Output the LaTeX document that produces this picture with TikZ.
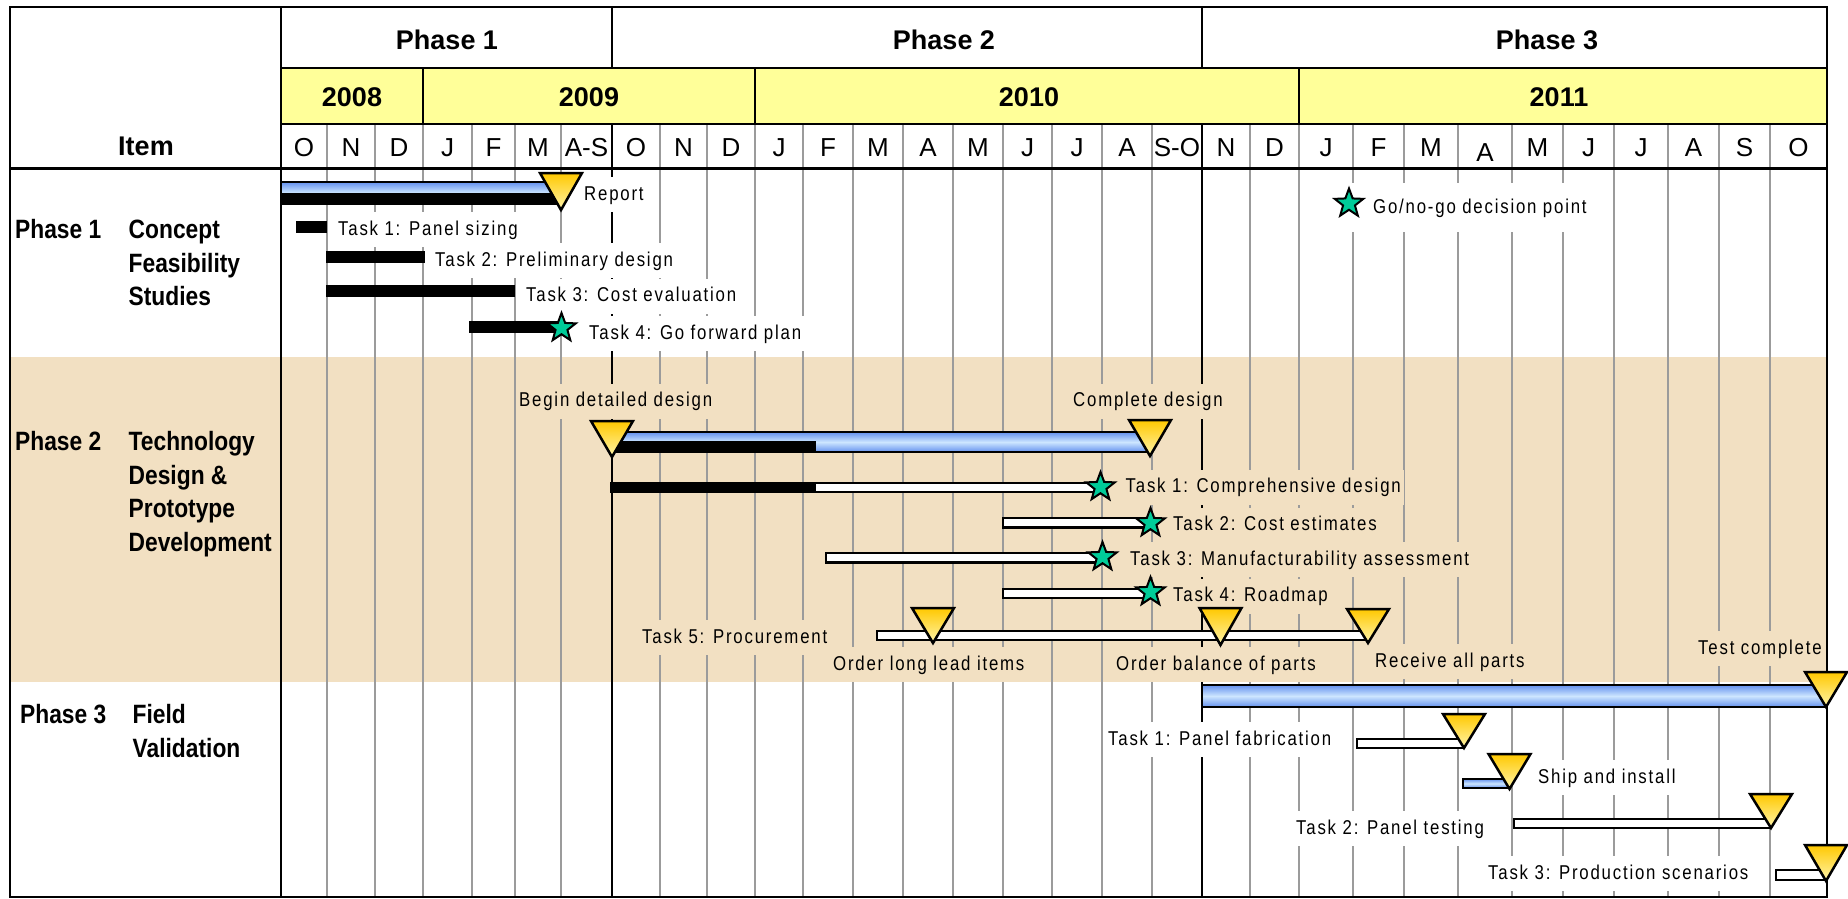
\documentclass[tikz,border=0pt]{standalone}
\usepackage{fontspec}
\setmainfont{Liberation Sans}
\newfontfamily\narrowfont[FakeStretch=0.84,LetterSpace=9]{Liberation Sans}
\newfontfamily\boldnarrow[FakeStretch=0.86]{Liberation Sans}
\usetikzlibrary{shapes.geometric}
\definecolor{gridgray}{RGB}{155,155,155}
\definecolor{hdryellow}{RGB}{255,255,153}
\definecolor{bandbeige}{RGB}{242,224,194}
\definecolor{stargreen}{RGB}{0,204,153}
\definecolor{barblueA}{RGB}{100,145,238}
\definecolor{barblueB}{RGB}{205,230,255}
\definecolor{msyellowA}{RGB}{255,200,0}
\definecolor{msyellowB}{RGB}{255,245,170}
\newcommand{\mstone}[4]{%
  \draw[milestone] (#2-21,#3) -- (#2+21,#3) -- (#2,#4) -- cycle;
  \coordinate (#1) at (#2,#4);}
\begin{document}
\begin{tikzpicture}[x=1pt,y=-1pt,
  gridline/.style={draw=gridgray,line width=2.2pt},
  blackline/.style={draw=black,line width=2.5pt},
  hdr/.style={font=\bfseries\fontsize{27}{30}\selectfont,inner sep=0pt,anchor=base},
  mon/.style={font=\fontsize{26}{28}\selectfont,inner sep=0pt,anchor=base},
  lcol/.style={font=\boldnarrow\bfseries\fontsize{26.5}{30}\selectfont,inner sep=0pt,anchor=base west},
  tasklbl/.style={font=\narrowfont\fontsize{20}{22}\selectfont,fill=white,inner xsep=3pt,inner ysep=8pt,
    text height=15pt,text depth=4pt,anchor=base west,xshift=-3pt},
  bandlbl/.style={tasklbl,fill=bandbeige},
  sumbar/.style={draw=black,line width=2pt,top color=barblueA,bottom color=barblueA,middle color=barblueB},
  taskbar/.style={draw=black,line width=2.5pt,fill=white},
  milestone/.style={draw=black,line width=2.5pt,line join=miter,top color=msyellowA,bottom color=msyellowB},
  msstar/.style={star,star points=5,star point ratio=2.4,minimum size=30pt,inner sep=0pt,
    draw=black,line width=2pt,fill=stargreen}]
\useasboundingbox (0,0) rectangle (1848,899);
% backgrounds
\fill[white] (10,7) rectangle (1827,897);
\fill[bandbeige] (10,357) rectangle (1827,682);
\fill[hdryellow] (281,68) rectangle (1827,124);
% grid lines (month boundaries)
\foreach \x in {327,375,423,472,515,561,660,707,755,803,853,903,953,1003,1052,1102,1152,1250,1299,1353,1404,1458,1512,1563,1614,1668,1719,1770}
  \draw[gridline] (\x,124) -- (\x,897);
% phase boundaries in body
\draw[blackline] (612,124) -- (612,897);
\draw[blackline] (1202,124) -- (1202,897);
% ---------- labels ----------
\node[tasklbl] (rep) at (584,200) {Report};
\node[tasklbl] (t11) at (338,235) {Task 1: Panel sizing};
\node[tasklbl] (t12) at (435,266) {Task 2: Preliminary design};
\node[tasklbl] (t13) at (526,301.5) {Task 3: Cost evaluation};
\node[tasklbl] (t14) at (589,339) {Task 4: Go forward plan};
\node[tasklbl,inner xsep=21pt,inner ysep=15pt,xshift=-18pt] (gonogo) at (1373,213) {Go/no-go decision point};
\node[bandlbl] (bd) at (519,406.5) {Begin detailed design};
\node[bandlbl] (cd) at (1073,406.5) {Complete design};
\node[bandlbl] (t21) at (1125.5,492.5) {Task 1: Comprehensive design};
\node[bandlbl] (t22) at (1173,530.5) {Task 2: Cost estimates};
\node[bandlbl] (t23) at (1130,565) {Task 3: Manufacturability assessment};
\node[bandlbl] (t24) at (1173,601.5) {Task 4: Roadmap};
\node[bandlbl] (t25) at (642,643) {Task 5: Procurement};
\node[bandlbl] (oll) at (833,670) {Order long lead items};
\node[bandlbl] (obp) at (1116,670) {Order balance of parts};
\node[bandlbl] (rap) at (1375,667) {Receive all parts};
\node[bandlbl] (tc) at (1698,654) {Test complete};
\node[tasklbl] (t31) at (1108,745) {Task 1: Panel fabrication};
\node[tasklbl] (ship) at (1538,783) {Ship and install};
\node[tasklbl] (t32) at (1296,834) {Task 2: Panel testing};
\node[tasklbl] (t33) at (1488,879) {Task 3: Production scenarios};
% ---------- header ----------
\draw[blackline] (281,68) -- (1827,68);
\draw[blackline] (281,124) -- (1827,124);
\draw[draw=black,line width=3pt] (10,168) -- (1827,168);
\draw[blackline] (281,7) -- (281,897);
\draw[blackline] (612,7) -- (612,68);
\draw[blackline] (1202,7) -- (1202,68);
\foreach \x in {423,755,1299} \draw[blackline] (\x,68) -- (\x,124);
\draw[draw=black,line width=2.5pt] (10,7) rectangle (1827,897);
\node[hdr] (ph1) at (447,50) {Phase 1};
\node[hdr] (ph2) at (944,50) {Phase 2};
\node[hdr] (ph3) at (1547,50) {Phase 3};
\node[hdr] (y08) at (352,106.5) {2008};
\node[hdr] (y09) at (589,106.5) {2009};
\node[hdr] (y10) at (1029,106.5) {2010};
\node[hdr] (y11) at (1559,106.5) {2011};
\node[hdr] (item) at (146,155) {Item};
\foreach \c/\m/\b [count=\i] in {304/O/156.5,351/N/156.5,399/D/156.5,447.5/J/156.5,493.5/F/156.5,538/M/156.5,586.5/A-S/156.5,636/O/156.5,683.5/N/156.5,731/D/156.5,779/J/156.5,828/F/156.5,878/M/156.5,928/A/156.5,978/M/156.5,1027.5/J/156.5,1077/J/156.5,1127/A/156.5,1177/S-O/156.5,1226/N/156.5,1274.5/D/156.5,1326/J/156.5,1378.5/F/156.5,1431/M/156.5,1485/A/161.5,1537.5/M/156.5,1588.5/J/156.5,1641/J/156.5,1693.5/A/156.5,1744.5/S/156.5,1798.5/O/156.5}
  \node[mon] (m\i) at (\c,\b) {\m};
% ---------- left column ----------
\node[lcol] (p1a) at (15,238) {Phase 1};
\node[lcol] (p1b) at (128.5,238) {Concept};
\node[lcol] (p1c) at (128.5,272.5) {Feasibility};
\node[lcol] (p1d) at (128.5,305.5) {Studies};
\node[lcol] (p2a) at (15,450) {Phase 2};
\node[lcol] (p2b) at (128.5,450) {Technology};
\node[lcol] (p2c) at (128.5,484) {Design \&};
\node[lcol] (p2d) at (128.5,517) {Prototype};
\node[lcol] (p2e) at (128.5,551) {Development};
\node[lcol] (p3a) at (20,723) {Phase 3};
\node[lcol] (p3b) at (132.5,723) {Field};
\node[lcol] (p3c) at (132.5,757) {Validation};
% ---------- bars ----------
% Phase 1
\draw[sumbar] (281,182) rectangle (561,204);
\fill[black] (281,193) rectangle (561,205);
\fill[black] (296,221) rectangle (327,233);
\fill[black] (326,251) rectangle (425,263);
\fill[black] (326,285) rectangle (515,297);
\fill[black] (469,321) rectangle (561,333);
% Phase 2
\draw[sumbar] (612,432) rectangle (1150,452);
\fill[black] (612,441) rectangle (816,453);
\draw[taskbar] (611,483) rectangle (1100,492);
\fill[black] (609.75,481.75) rectangle (816,493.25);
\draw[taskbar] (1003,518) rectangle (1150,527.5);
\draw[taskbar] (826,553) rectangle (1102,562.5);
\draw[taskbar] (1003,589) rectangle (1150,598);
\draw[taskbar] (877,631) rectangle (1368,640);
% Phase 3
\draw[sumbar] (1202,685) rectangle (1826,707);
\draw[taskbar] (1357,739) rectangle (1464,748);
\draw[sumbar,line width=2.5pt] (1463,779) rectangle (1510,788);
\draw[taskbar] (1514,819) rectangle (1771,828);
\draw[taskbar] (1776,870) rectangle (1826,880);
% ---------- milestones ----------
\mstone{mrep}{561}{173}{210}
\mstone{mbd}{612}{421}{457}
\mstone{mcd}{1150}{420}{456}
\mstone{moll}{933}{608}{643}
\mstone{mobp}{1220.5}{608}{645}
\mstone{mrap}{1368}{609}{643}
\mstone{mtc}{1826}{672}{707}
\mstone{mt31}{1464}{714}{748}
\mstone{mship}{1509.5}{754}{789}
\mstone{mt32}{1771}{794}{828}
\mstone{mt33}{1826}{845}{881}
% ---------- stars ----------
\node[msstar] (s14) at (561.5,328) {};
\node[msstar] (sgo) at (1349,203.5) {};
\node[msstar] (s21) at (1100.5,487) {};
\node[msstar] (s22) at (1150.5,523) {};
\node[msstar] (s23) at (1102.5,557) {};
\node[msstar] (s24) at (1150.5,592) {};
\end{tikzpicture}
\end{document}
